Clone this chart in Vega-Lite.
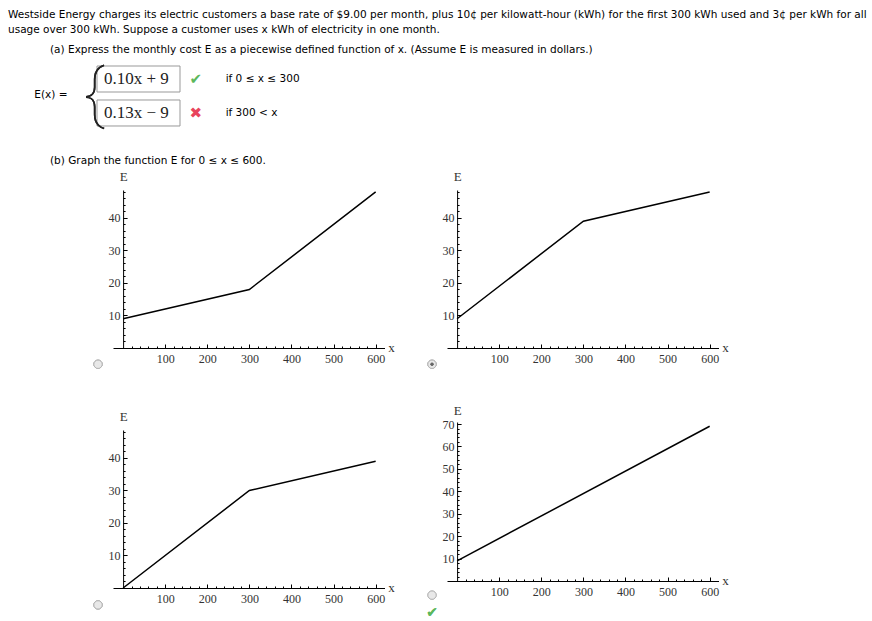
{
  "$schema": "https://vega.github.io/schema/vega-lite/v6.json",
  "padding": {"left": 8, "top": 9, "right": 4, "bottom": 4},
  "background": "white",
  "config": {
    "view": {"stroke": null},
    "title": {"font": "DejaVu Sans", "fontSize": 10.52, "fontWeight": "normal", "color": "#000", "anchor": "start", "frame": "group", "lineHeight": 15},
    "axis": {"grid": false, "domainColor": "#000", "tickColor": "#000", "domainWidth": 1, "tickWidth": 1, "labelFont": "Liberation Serif", "labelFontSize": 12, "labelColor": "#333", "titleFont": "Liberation Serif", "titleFontSize": 13, "titleFontWeight": "normal", "titleColor": "#333", "labelFlush": false, "labelOverlap": false}
  },
  "title": {
    "text": ["Westside Energy charges its electric customers a base rate of $9.00 per month, plus 10¢ per kilowatt-hour (kWh) for the first 300 kWh used and 3¢ per kWh for all", "usage over 300 kWh. Suppose a customer uses x kWh of electricity in one month."],
    "dx": -105,
    "offset": 10
  },
  "datasets": {
    "formula": [
      {"piece": "a", "expr": "0.10x + 9", "symbol": "✔", "status": "correct", "cond": "if 0 ≤ x ≤ 300"},
      {"piece": "b", "expr": "0.13x − 9", "symbol": "✖", "status": "incorrect", "cond": "if 300 < x"}
    ],
    "p1": [{"x": 0, "E": 9}, {"x": 300, "E": 18}, {"x": 600, "E": 48}],
    "p2": [{"x": 0, "E": 9}, {"x": 300, "E": 39}, {"x": 600, "E": 48}],
    "p3": [{"x": 0, "E": 0}, {"x": 300, "E": 30}, {"x": 600, "E": 39}],
    "p4": [{"x": 0, "E": 9}, {"x": 600, "E": 69}]
  },
  "spacing": 26,
  "vconcat": [
    {
      "width": 160,
      "height": 68,
      "title": {"text": "(a) Express the monthly cost E as a piecewise defined function of x. (Assume E is measured in dollars.)", "dx": -63, "offset": 6},
      "data": {"name": "formula"},
      "layer": [
        {
          "mark": {"type": "rect", "fill": "white", "stroke": "#999", "strokeWidth": 1},
          "encoding": {
            "x": {"datum": "expr", "type": "nominal", "scale": {"domain": ["expr", "note"], "range": [-16, 150], "paddingInner": 0, "paddingOuter": 0}, "axis": null},
            "y": {"field": "piece", "type": "nominal", "scale": {"domain": ["a", "b"], "paddingInner": 0.235, "paddingOuter": 0.118}, "axis": {"title": "E(x)  =", "labels": false, "ticks": false, "domain": true, "domainOpacity": 0, "titleAngle": 0, "titleAlign": "right", "titleBaseline": "middle", "titlePadding": 46, "titleY": 32, "titleFont": "DejaVu Sans", "titleFontSize": 10.52, "titleColor": "#000"}}
          }
        },
        {
          "mark": {"type": "text", "align": "left", "dx": 7, "font": "Liberation Serif", "fontSize": 17, "color": "#222"},
          "encoding": {
            "x": {"datum": "expr", "type": "nominal", "bandPosition": 0, "axis": null},
            "y": {"field": "piece", "type": "nominal"},
            "text": {"field": "expr"}
          }
        },
        {
          "mark": {"type": "text", "font": "DejaVu Sans", "fontSize": 15},
          "encoding": {
            "x": {"datum": "note", "type": "nominal", "bandPosition": 0.19, "axis": null},
            "y": {"field": "piece", "type": "nominal"},
            "text": {"field": "symbol"},
            "color": {"field": "status", "type": "nominal", "scale": {"domain": ["correct", "incorrect"], "range": ["#5cb85c", "#e8445c"]}, "legend": null}
          }
        },
        {
          "mark": {"type": "text", "align": "left", "font": "DejaVu Sans", "fontSize": 10.52, "color": "#000"},
          "encoding": {
            "x": {"datum": "note", "type": "nominal", "bandPosition": 0.55, "axis": null},
            "y": {"field": "piece", "type": "nominal"},
            "text": {"field": "cond"}
          }
        },
        {
          "mark": {"type": "text", "text": "{", "align": "center", "dx": -3, "baseline": "middle", "font": "Roboto", "fontWeight": 100, "fontSize": 64, "color": "#222"},
          "encoding": {
            "x": {"datum": "expr", "type": "nominal", "bandPosition": 0, "axis": null}
          }
        }
      ]
    },
    {
      "title": {"text": "(b) Graph the function E for  0 ≤ x ≤ 600.", "dx": -63, "offset": 3},
      "spacing": 30,
      "hconcat": [
        {
          "spacing": 39,
          "vconcat": [
            {
              "width": 271.5, "height": 158,
              "data": {"name": "p1"},
              "layer": [
                {"mark": {"type": "line", "color": "#000", "strokeWidth": 1.5},
                 "encoding": {
                   "x": {"field": "x", "type": "quantitative", "scale": {"domain": [-24, 621], "nice": false, "zero": false}, "axis": {"orient": "bottom", "values": [100, 200, 300, 400, 500, 600], "tickSize": -4, "labelPadding": 9, "title": "x", "titleX": 278, "titleY": -1, "titleAlign": "center", "titleBaseline": "middle"}},
                   "y": {"field": "E", "type": "quantitative", "scale": {"domain": [0, 48.6], "nice": false, "zero": false}, "axis": {"orient": "left", "values": [10, 20, 30, 40], "tickSize": -4, "labelPadding": 7, "offset": -10.1, "title": "E", "titleX": 0, "titleY": -14, "titleAngle": 0, "titleAlign": "center", "titleBaseline": "middle"}}
                 }},
                {"mark": {"type": "line", "opacity": 0},
                 "encoding": {
                   "x": {"field": "x", "type": "quantitative", "scale": {"domain": [-24, 621], "nice": false, "zero": false}, "axis": {"orient": "bottom", "values": [20,40,60,80,100,120,140,160,180,200,220,240,260,280,300,320,340,360,380,400,420,440,460,480,500,520,540,560,580,600], "tickSize": -2, "labels": false, "domain": false, "title": null}},
                   "y": {"field": "E", "type": "quantitative", "scale": {"domain": [0, 48.6], "nice": false, "zero": false}, "axis": {"orient": "left", "values": [2,4,6,8,10,12,14,16,18,20,22,24,26,28,30,32,34,36,38,40,42,44,46,48], "tickSize": -2, "labels": false, "domain": false, "title": null, "offset": -10.1}}
                 }},
                {"mark": {"type": "point", "shape": "circle", "filled": true, "size": 70, "fill": "#e8e8e8", "stroke": "#b5b5b5", "strokeWidth": 1, "opacity": 1},
                 "encoding": {
                   "x": {"datum": -59.6, "type": "quantitative", "scale": {"domain": [-24, 621], "nice": false, "zero": false}, "axis": null},
                   "y": {"datum": -5, "type": "quantitative", "scale": {"domain": [0, 48.6], "nice": false, "zero": false}, "axis": null}
                 }}
              ],
              "resolve": {"axis": {"x": "independent", "y": "independent"}}
            },
            {
              "width": 271.5, "height": 158,
              "data": {"name": "p3"},
              "layer": [
                {"mark": {"type": "line", "color": "#000", "strokeWidth": 1.5},
                 "encoding": {
                   "x": {"field": "x", "type": "quantitative", "scale": {"domain": [-24, 621], "nice": false, "zero": false}, "axis": {"orient": "bottom", "values": [100, 200, 300, 400, 500, 600], "tickSize": -4, "labelPadding": 9, "title": "x", "titleX": 278, "titleY": -1, "titleAlign": "center", "titleBaseline": "middle"}},
                   "y": {"field": "E", "type": "quantitative", "scale": {"domain": [0, 48.6], "nice": false, "zero": false}, "axis": {"orient": "left", "values": [10, 20, 30, 40], "tickSize": -4, "labelPadding": 7, "offset": -10.1, "title": "E", "titleX": 0, "titleY": -14, "titleAngle": 0, "titleAlign": "center", "titleBaseline": "middle"}}
                 }},
                {"mark": {"type": "line", "opacity": 0},
                 "encoding": {
                   "x": {"field": "x", "type": "quantitative", "scale": {"domain": [-24, 621], "nice": false, "zero": false}, "axis": {"orient": "bottom", "values": [20,40,60,80,100,120,140,160,180,200,220,240,260,280,300,320,340,360,380,400,420,440,460,480,500,520,540,560,580,600], "tickSize": -2, "labels": false, "domain": false, "title": null}},
                   "y": {"field": "E", "type": "quantitative", "scale": {"domain": [0, 48.6], "nice": false, "zero": false}, "axis": {"orient": "left", "values": [2,4,6,8,10,12,14,16,18,20,22,24,26,28,30,32,34,36,38,40,42,44,46,48], "tickSize": -2, "labels": false, "domain": false, "title": null, "offset": -10.1}}
                 }},
                {"mark": {"type": "point", "shape": "circle", "filled": true, "size": 70, "fill": "#e8e8e8", "stroke": "#b5b5b5", "strokeWidth": 1, "opacity": 1},
                 "encoding": {
                   "x": {"datum": -59.6, "type": "quantitative", "scale": {"domain": [-24, 621], "nice": false, "zero": false}, "axis": null},
                   "y": {"datum": -5.2, "type": "quantitative", "scale": {"domain": [0, 48.6], "nice": false, "zero": false}, "axis": null}
                 }}
              ],
              "resolve": {"axis": {"x": "independent", "y": "independent"}}
            }
          ]
        },
        {
          "spacing": 33,
          "vconcat": [
            {
              "width": 271.5, "height": 158,
              "data": {"name": "p2"},
              "layer": [
                {"mark": {"type": "line", "color": "#000", "strokeWidth": 1.5},
                 "encoding": {
                   "x": {"field": "x", "type": "quantitative", "scale": {"domain": [-24, 621], "nice": false, "zero": false}, "axis": {"orient": "bottom", "values": [100, 200, 300, 400, 500, 600], "tickSize": -4, "labelPadding": 9, "title": "x", "titleX": 278, "titleY": -1, "titleAlign": "center", "titleBaseline": "middle"}},
                   "y": {"field": "E", "type": "quantitative", "scale": {"domain": [0, 48.6], "nice": false, "zero": false}, "axis": {"orient": "left", "values": [10, 20, 30, 40], "tickSize": -4, "labelPadding": 7, "offset": -10.1, "title": "E", "titleX": 0, "titleY": -14, "titleAngle": 0, "titleAlign": "center", "titleBaseline": "middle"}}
                 }},
                {"mark": {"type": "line", "opacity": 0},
                 "encoding": {
                   "x": {"field": "x", "type": "quantitative", "scale": {"domain": [-24, 621], "nice": false, "zero": false}, "axis": {"orient": "bottom", "values": [20,40,60,80,100,120,140,160,180,200,220,240,260,280,300,320,340,360,380,400,420,440,460,480,500,520,540,560,580,600], "tickSize": -2, "labels": false, "domain": false, "title": null}},
                   "y": {"field": "E", "type": "quantitative", "scale": {"domain": [0, 48.6], "nice": false, "zero": false}, "axis": {"orient": "left", "values": [2,4,6,8,10,12,14,16,18,20,22,24,26,28,30,32,34,36,38,40,42,44,46,48], "tickSize": -2, "labels": false, "domain": false, "title": null, "offset": -10.1}}
                 }},
                {"mark": {"type": "point", "shape": "circle", "filled": true, "size": 70, "fill": "#e8e8e8", "stroke": "#b5b5b5", "strokeWidth": 1, "opacity": 1},
                 "encoding": {
                   "x": {"datum": -59.6, "type": "quantitative", "scale": {"domain": [-24, 621], "nice": false, "zero": false}, "axis": null},
                   "y": {"datum": -5, "type": "quantitative", "scale": {"domain": [0, 48.6], "nice": false, "zero": false}, "axis": null}
                 }},
                {"mark": {"type": "point", "shape": "circle", "filled": true, "size": 8, "color": "#666", "opacity": 1},
                 "encoding": {
                   "x": {"datum": -59.6, "type": "quantitative", "scale": {"domain": [-24, 621], "nice": false, "zero": false}, "axis": null},
                   "y": {"datum": -5, "type": "quantitative", "scale": {"domain": [0, 48.6], "nice": false, "zero": false}, "axis": null}
                 }}
              ],
              "resolve": {"axis": {"x": "independent", "y": "independent"}}
            },
            {
              "width": 271.5, "height": 159,
              "data": {"name": "p4"},
              "layer": [
                {"mark": {"type": "line", "color": "#000", "strokeWidth": 1.5},
                 "encoding": {
                   "x": {"field": "x", "type": "quantitative", "scale": {"domain": [-24, 621], "nice": false, "zero": false}, "axis": {"orient": "bottom", "values": [100, 200, 300, 400, 500, 600], "tickSize": -4, "labelPadding": 9, "title": "x", "titleX": 278, "titleY": -1, "titleAlign": "center", "titleBaseline": "middle"}},
                   "y": {"field": "E", "type": "quantitative", "scale": {"domain": [0, 70.9], "nice": false, "zero": false}, "axis": {"orient": "left", "values": [10, 20, 30, 40, 50, 60, 70], "tickSize": -4, "labelPadding": 7, "offset": -10.1, "title": "E", "titleX": 0, "titleY": -12, "titleAngle": 0, "titleAlign": "center", "titleBaseline": "middle"}}
                 }},
                {"mark": {"type": "line", "opacity": 0},
                 "encoding": {
                   "x": {"field": "x", "type": "quantitative", "scale": {"domain": [-24, 621], "nice": false, "zero": false}, "axis": {"orient": "bottom", "values": [20,40,60,80,100,120,140,160,180,200,220,240,260,280,300,320,340,360,380,400,420,440,460,480,500,520,540,560,580,600], "tickSize": -2, "labels": false, "domain": false, "title": null}},
                   "y": {"field": "E", "type": "quantitative", "scale": {"domain": [0, 70.9], "nice": false, "zero": false}, "axis": {"orient": "left", "values": [2,4,6,8,10,12,14,16,18,20,22,24,26,28,30,32,34,36,38,40,42,44,46,48,50,52,54,56,58,60,62,64,66,68,70], "tickSize": -2, "labels": false, "domain": false, "title": null, "offset": -10.1}}
                 }},
                {"mark": {"type": "point", "shape": "circle", "filled": true, "size": 70, "fill": "#e8e8e8", "stroke": "#b5b5b5", "strokeWidth": 1, "opacity": 1},
                 "encoding": {
                   "x": {"datum": -59.6, "type": "quantitative", "scale": {"domain": [-24, 621], "nice": false, "zero": false}, "axis": null},
                   "y": {"datum": -6.3, "type": "quantitative", "scale": {"domain": [0, 70.9], "nice": false, "zero": false}, "axis": null}
                 }},
                {"mark": {"type": "text", "text": "✔", "font": "DejaVu Sans", "fontSize": 14, "color": "#5cb85c"},
                 "encoding": {
                   "x": {"datum": -59.6, "type": "quantitative", "scale": {"domain": [-24, 621], "nice": false, "zero": false}, "axis": null},
                   "y": {"datum": -14.3, "type": "quantitative", "scale": {"domain": [0, 70.9], "nice": false, "zero": false}, "axis": null}
                 }}
              ],
              "resolve": {"axis": {"x": "independent", "y": "independent"}}
            }
          ]
        }
      ]
    }
  ]
}
